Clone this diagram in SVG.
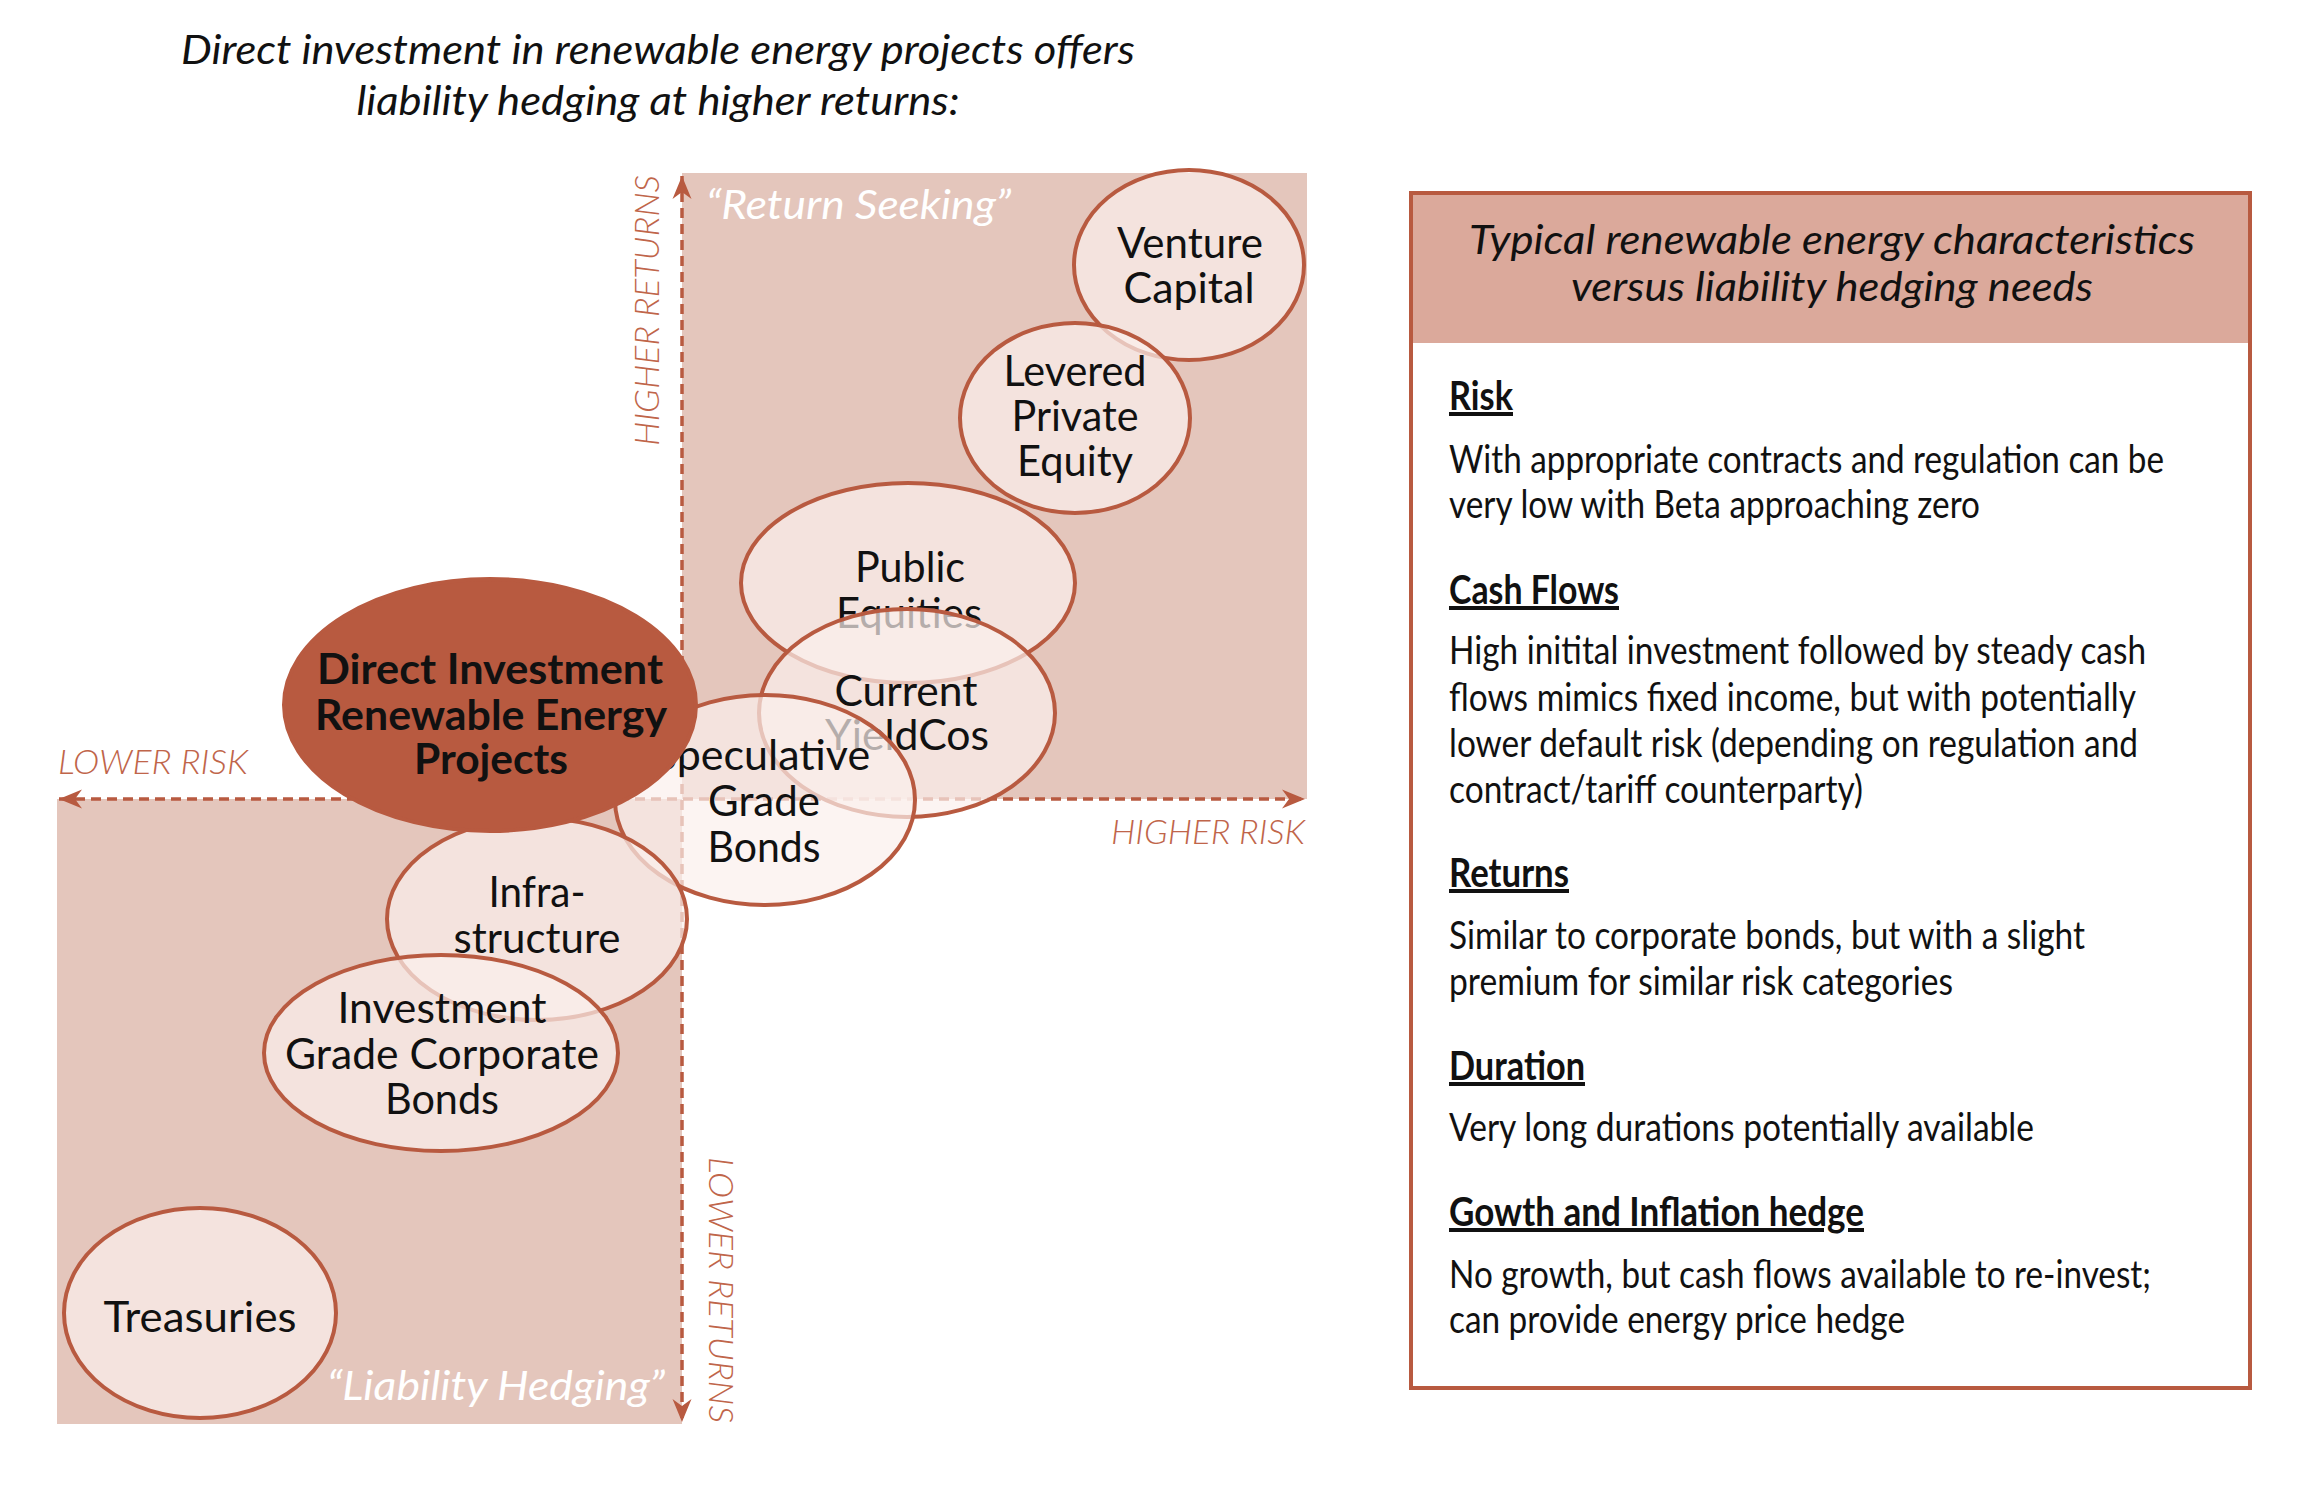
<svg xmlns="http://www.w3.org/2000/svg" width="2306" height="1486" viewBox="0 0 2306 1486">
<style>
text { font-family: Lato, "Liberation Sans", "DejaVu Sans", sans-serif; }
.title { font-size: 41px; font-style: italic; fill: #111; text-anchor: middle; }
.quad { fill: #e4c6bc; }
.axis { fill: none; stroke: #b85a40; stroke-width: 3.5; stroke-dasharray: 10 6; }
.axlbl { font-size: 34px; font-style: italic; font-weight: 300; fill: #c0654a; }
.qlbl { font-size: 41px; font-style: italic; fill: #ffffff; }
.node ellipse { fill: #fbf0ec; fill-opacity: 0.7; stroke: #b85a40; stroke-width: 4; }
.node text { font-size: 43px; fill: #111; text-anchor: middle; }
#n-direct ellipse { fill: #b85a40; fill-opacity: 1; stroke: #b85a40; }
#n-direct text { font-weight: bold; font-size: 42px; }
.panel { fill: #ffffff; stroke: #b85a40; stroke-width: 4; }
.phead { fill: #dba99b; }
.ptitle { font-size: 40px; font-style: italic; fill: #111; text-anchor: middle; }
.ph { font-size: 40px; font-weight: bold; fill: #111; text-decoration: underline; }
.pb { font-size: 38px; fill: #111; }
</style>
<defs>
<marker id="arr" markerUnits="userSpaceOnUse" markerWidth="30" markerHeight="24" viewBox="-24 -12 26 24" refX="0" refY="0" orient="auto-start-reverse">
<path d="M0,0 L-23,-9.5 L-16,0 L-23,9.5 Z" fill="#b85a40"/>
</marker>
</defs>
<rect width="2306" height="1486" fill="#ffffff"/>

<g id="title">
<text class="title" x="658" y="64" textLength="954" lengthAdjust="spacingAndGlyphs">Direct investment in renewable energy projects offers</text>
<text class="title" x="658" y="115" textLength="603" lengthAdjust="spacingAndGlyphs">liability hedging at higher returns:</text>
</g>

<g id="quadrants">
<rect class="quad" x="682" y="173" width="625" height="626"/>
<rect class="quad" x="57" y="799" width="625" height="625"/>
<text class="qlbl" x="706" y="219" textLength="305" lengthAdjust="spacingAndGlyphs">“Return Seeking”</text>
<text class="qlbl" x="327" y="1400" textLength="338" lengthAdjust="spacingAndGlyphs">“Liability Hedging”</text>
</g>

<g id="connectors">
<line class="axis" x1="59" y1="799" x2="1305" y2="799" marker-start="url(#arr)" marker-end="url(#arr)"/>
<line class="axis" x1="682" y1="176" x2="682" y2="1422" marker-start="url(#arr)" marker-end="url(#arr)"/>
<text class="axlbl" x="58" y="774" textLength="190" lengthAdjust="spacingAndGlyphs">LOWER RISK</text>
<text class="axlbl" x="1111" y="844" textLength="194" lengthAdjust="spacingAndGlyphs">HIGHER RISK</text>
<text class="axlbl" transform="translate(659,446) rotate(-90)" x="0" y="0" textLength="271" lengthAdjust="spacingAndGlyphs">HIGHER RETURNS</text>
<text class="axlbl" transform="translate(709,1157) rotate(90)" x="0" y="0" textLength="266" lengthAdjust="spacingAndGlyphs">LOWER RETURNS</text>
</g>

<g id="n-venture" class="node">
<ellipse cx="1189" cy="265" rx="115" ry="95"/>
<text x="1190" y="258" textLength="146" lengthAdjust="spacingAndGlyphs">Venture</text>
<text x="1189" y="303" textLength="131" lengthAdjust="spacingAndGlyphs">Capital</text>
</g>
<g id="n-levered" class="node">
<ellipse cx="1075" cy="418" rx="115" ry="95"/>
<text x="1075" y="386" textLength="143" lengthAdjust="spacingAndGlyphs">Levered</text>
<text x="1075" y="431" textLength="127" lengthAdjust="spacingAndGlyphs">Private</text>
<text x="1075" y="476" textLength="116" lengthAdjust="spacingAndGlyphs">Equity</text>
</g>
<g id="n-public" class="node">
<ellipse cx="908" cy="583" rx="167" ry="100"/>
<text x="910" y="582" textLength="110" lengthAdjust="spacingAndGlyphs">Public</text>
<text x="909" y="628" textLength="146" lengthAdjust="spacingAndGlyphs">Equities</text>
</g>
<g id="n-yieldcos" class="node">
<ellipse cx="907" cy="713" rx="148" ry="104"/>
<text x="906" y="706" textLength="143" lengthAdjust="spacingAndGlyphs">Current</text>
<text x="907" y="750" textLength="164" lengthAdjust="spacingAndGlyphs">YieldCos</text>
</g>
<g id="n-speculative" class="node">
<ellipse cx="765" cy="800" rx="150" ry="105"/>
<text x="762" y="770">Speculative</text>
<text x="764" y="816" textLength="112" lengthAdjust="spacingAndGlyphs">Grade</text>
<text x="764" y="862" textLength="113" lengthAdjust="spacingAndGlyphs">Bonds</text>
</g>
<g id="n-infra" class="node">
<ellipse cx="537" cy="919" rx="150" ry="101"/>
<text x="537" y="907" textLength="97" lengthAdjust="spacingAndGlyphs">Infra-</text>
<text x="537" y="953" textLength="167" lengthAdjust="spacingAndGlyphs">structure</text>
</g>
<g id="n-igcb" class="node">
<ellipse cx="441" cy="1053" rx="177" ry="98"/>
<text x="442" y="1023" textLength="209" lengthAdjust="spacingAndGlyphs">Investment</text>
<text x="442" y="1069" textLength="314" lengthAdjust="spacingAndGlyphs">Grade Corporate</text>
<text x="442" y="1114" textLength="114" lengthAdjust="spacingAndGlyphs">Bonds</text>
</g>
<g id="n-treasuries" class="node">
<ellipse cx="200" cy="1313" rx="136" ry="105"/>
<text x="200" y="1332" textLength="193" lengthAdjust="spacingAndGlyphs">Treasuries</text>
</g>
<g id="n-direct" class="node">
<ellipse cx="490" cy="705" rx="206" ry="126"/>
<text x="490" y="684" textLength="346" lengthAdjust="spacingAndGlyphs">Direct Investment</text>
<text x="491" y="730" textLength="352" lengthAdjust="spacingAndGlyphs">Renewable Energy</text>
<text x="491" y="774" textLength="154" lengthAdjust="spacingAndGlyphs">Projects</text>
</g>

<g id="panel">
<rect class="panel" x="1411" y="193" width="839" height="1195"/>
<rect class="phead" x="1413" y="195" width="835" height="148"/>
<text class="ptitle" x="1832" y="254" textLength="726" lengthAdjust="spacingAndGlyphs">Typical renewable energy characteristics</text>
<text class="ptitle" x="1832" y="301" textLength="522" lengthAdjust="spacingAndGlyphs">versus liability hedging needs</text>

<text class="ph" x="1449" y="410" textLength="64" lengthAdjust="spacingAndGlyphs">Risk</text>
<text class="pb" x="1449" y="473" textLength="715" lengthAdjust="spacingAndGlyphs">With appropriate contracts and regulation can be</text>
<text class="pb" x="1449" y="518" textLength="531" lengthAdjust="spacingAndGlyphs">very low with Beta approaching zero</text>

<text class="ph" x="1449" y="604" textLength="170" lengthAdjust="spacingAndGlyphs">Cash Flows</text>
<text class="pb" x="1449" y="664" textLength="697" lengthAdjust="spacingAndGlyphs">High initital investment followed by steady cash</text>
<text class="pb" x="1449" y="711" textLength="687" lengthAdjust="spacingAndGlyphs">flows mimics fixed income, but with potentially</text>
<text class="pb" x="1449" y="757" textLength="689" lengthAdjust="spacingAndGlyphs">lower default risk (depending on regulation and</text>
<text class="pb" x="1449" y="803" textLength="414" lengthAdjust="spacingAndGlyphs">contract/tariff counterparty)</text>

<text class="ph" x="1449" y="887" textLength="120" lengthAdjust="spacingAndGlyphs">Returns</text>
<text class="pb" x="1449" y="949" textLength="636" lengthAdjust="spacingAndGlyphs">Similar to corporate bonds, but with a slight</text>
<text class="pb" x="1449" y="995" textLength="504" lengthAdjust="spacingAndGlyphs">premium for similar risk categories</text>

<text class="ph" x="1449" y="1080" textLength="136" lengthAdjust="spacingAndGlyphs">Duration</text>
<text class="pb" x="1449" y="1141" textLength="585" lengthAdjust="spacingAndGlyphs">Very long durations potentially available</text>

<text class="ph" x="1449" y="1226" textLength="415" lengthAdjust="spacingAndGlyphs">Gowth and Inflation hedge</text>
<text class="pb" x="1449" y="1288" textLength="702" lengthAdjust="spacingAndGlyphs">No growth, but cash flows available to re-invest;</text>
<text class="pb" x="1449" y="1333" textLength="456" lengthAdjust="spacingAndGlyphs">can provide energy price hedge</text>
</g>
</svg>
